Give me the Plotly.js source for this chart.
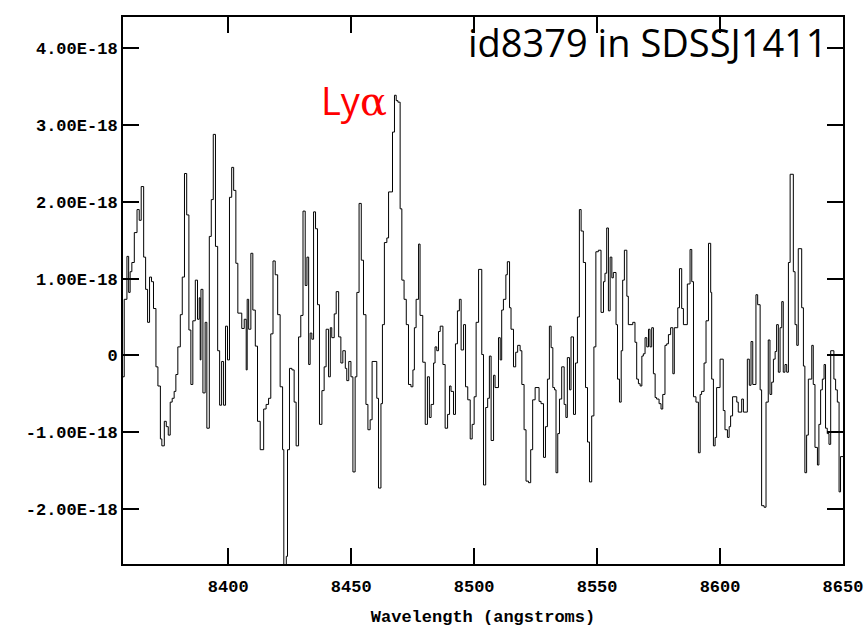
<!DOCTYPE html>
<html>
<head>
<meta charset="utf-8">
<script src="https://cdn.plot.ly/plotly-3.0.1.min.js"></script>
<style>html,body{margin:0;padding:0;background:#fff;}#chart{width:864px;height:627px;}</style>
</head>
<body>
<div id="chart"></div>
<script>
// Wavelength (bin start, angstroms)
const wavelength = [
8357.2,8357.7,8358.8,8359.5,8360.1,8360.8,8361.8,8362.9,8363.8,8364.6,
8365.6,8366.4,8367.2,8368.0,8368.8,8369.6,8370.6,8371.4,8372.4,8373.0,
8374.0,8374.8,8375.6,8376.4,8377.2,8378.0,8378.7,8379.5,8380.5,8381.3,
8382.2,8383.1,8384.0,8384.8,8385.6,8386.6,8387.5,8388.2,8388.6,8388.9,
8389.7,8390.6,8391.3,8392.3,8393.1,8393.9,8394.8,8395.7,8396.5,8397.3,
8398.1,8398.9,8399.7,8400.5,8401.4,8402.2,8403.1,8403.9,8405.5,8406.5,
8407.3,8407.7,8408.3,8409.2,8410.0,8411.0,8411.9,8413.0,8414.4,8415.4,
8416.4,8417.3,8418.2,8419.1,8420.1,8421.1,8422.1,8422.6,8423.6,8424.1,
8424.9,8425.9,8426.8,8427.6,8428.6,8429.5,8430.4,8431.3,8432.0,8432.7,
8433.3,8434.0,8434.7,8435.5,8436.3,8437.1,8438.1,8439.0,8439.8,8440.8,
8441.5,8442.1,8443.1,8443.9,8444.9,8445.8,8446.6,8447.6,8448.2,8449.0,
8449.9,8450.7,8451.6,8452.3,8453.2,8454.1,8455.0,8456.0,8456.8,8457.7,
8458.5,8460.4,8461.1,8462.1,8462.7,8463.5,8464.5,8465.2,8466.8,8467.6,
8468.3,8469.0,8469.9,8470.6,8471.5,8472.4,8473.3,8474.3,8475.1,8475.7,
8476.4,8477.4,8478.0,8479.1,8480.1,8481.0,8481.8,8482.5,8483.5,8484.1,
8484.8,8485.5,8486.2,8487.3,8488.2,8489.2,8490.0,8490.6,8491.6,8492.4,
8493.2,8494.0,8494.7,8495.7,8496.5,8497.4,8498.4,8499.2,8500.0,8500.8,
8501.8,8503.1,8503.8,8504.7,8505.5,8506.2,8506.9,8507.9,8508.5,8509.9,
8510.6,8511.2,8511.9,8512.9,8513.5,8514.4,8515.0,8516.0,8516.9,8517.7,
8518.7,8519.4,8520.3,8521.1,8522.1,8523.0,8523.8,8524.8,8526.4,8527.2,
8528.2,8529.0,8529.8,8530.6,8531.3,8532.0,8532.7,8533.3,8534.0,8534.7,
8535.6,8536.6,8537.3,8537.9,8538.8,8539.4,8540.4,8541.2,8542.0,8542.8,
8543.5,8544.4,8545.3,8546.1,8546.9,8547.8,8548.7,8549.5,8550.5,8551.6,
8552.6,8553.2,8553.9,8554.6,8555.3,8556.0,8556.6,8557.7,8558.3,8559.1,
8559.8,8560.4,8561.1,8562.1,8562.7,8564.5,8565.4,8566.1,8566.8,8567.5,
8568.2,8568.8,8569.5,8570.2,8570.9,8571.5,8572.2,8572.9,8573.6,8574.2,
8575.2,8576.0,8576.7,8577.6,8578.3,8579.0,8579.9,8580.8,8581.4,8582.8,
8583.5,8584.4,8585.1,8586.7,8587.8,8588.5,8589.2,8590.2,8591.2,8591.9,
8592.5,8593.5,8594.3,8595.3,8596.2,8596.6,8597.3,8598.0,8598.6,8600.0,
8601.3,8602.0,8603.0,8603.7,8604.3,8605.1,8606.8,8607.4,8608.8,8609.5,
8611.1,8611.9,8612.6,8613.3,8614.6,8615.3,8616.3,8616.9,8617.9,8618.7,
8619.6,8620.3,8621.0,8621.7,8622.4,8623.0,8623.7,8624.4,8625.1,8625.7,
8626.4,8627.1,8627.8,8628.5,8629.8,8630.5,8631.2,8631.8,8633.2,8633.9,
8634.5,8635.2,8635.9,8637.3,8637.9,8638.6,8639.6,8640.2,8640.9,8641.6,
8642.3,8642.9,8643.6,8644.3,8645.0,8646.3,8647.0,8647.7,8648.4,8649.0,
8650.2
];
// Flux in units of 1E-18
const flux = [
-0.28,0.73,1.29,0.82,1.09,1.21,1.60,1.90,1.76,2.20,
1.28,0.86,0.43,1.02,0.96,0.61,-0.15,-0.40,-1.09,-1.18,
-0.86,-0.93,-1.04,-0.61,-0.56,-0.47,-0.25,0.11,0.53,1.02,
2.37,1.83,0.33,-0.38,0.45,0.98,0.47,0.75,-0.06,0.86,
-0.49,0.43,-0.95,1.55,2.03,2.88,1.42,0.06,-0.65,-0.08,
-0.65,0.38,-0.06,2.06,2.45,2.15,1.20,0.55,0.35,0.47,
-0.19,0.73,0.34,1.33,0.59,0.12,-0.86,-1.23,-0.70,-0.64,
-0.56,0.28,1.23,1.05,0.53,-0.41,-1.23,-3.20,-2.62,-1.23,
-0.17,-0.19,-0.61,-1.18,0.24,0.52,1.88,0.91,1.28,-0.12,
0.29,0.21,1.87,1.65,0.66,-0.90,-0.46,-0.15,0.34,-0.28,
0.36,0.23,0.54,0.83,0.24,-0.10,0.06,-0.17,-0.33,-0.08,
-0.28,-1.52,-0.28,0.82,1.98,1.24,0.53,-0.64,-0.97,-0.84,
-0.08,-0.56,-1.73,-0.63,0.40,1.47,1.53,2.13,2.91,3.39,
3.32,3.30,1.91,0.98,0.73,0.40,-0.38,-0.41,-0.19,0.36,
0.73,1.45,0.52,-0.09,-0.90,-0.28,-0.81,-0.64,-0.10,0.11,
0.06,0.31,0.38,-0.12,-0.95,-0.77,-0.40,-0.47,-0.77,0.15,
0.58,0.73,0.07,0.40,-0.41,-0.58,-1.09,-0.90,-0.54,0.43,
1.12,0.01,-1.69,-0.68,-0.56,-0.01,-1.11,-0.26,-0.42,0.23,
-0.06,0.59,0.73,1.05,1.22,0.62,0.34,-0.15,0.04,0.13,
0.06,-0.38,-0.97,-1.64,-1.66,-1.23,-0.58,-0.42,-0.60,-0.63,
-1.33,-0.93,-0.31,0.38,0.10,-0.42,-0.45,-1.53,-1.02,-0.57,
-0.15,-0.64,-0.81,-0.03,-0.45,0.24,-0.77,-0.10,0.50,1.90,
1.62,1.21,-0.42,-1.13,-1.65,-0.79,0.11,1.35,1.37,0.56,
0.96,1.07,1.66,0.58,1.28,1.01,1.08,0.40,-0.31,-0.61,
0.06,0.98,1.37,0.77,0.40,0.43,0.17,-0.31,-0.37,-0.40,
-0.01,0.02,0.23,0.11,0.34,0.11,0.36,-0.24,-0.55,-0.57,
-0.63,-0.70,-0.51,0.13,0.15,0.27,0.36,-0.24,0.36,0.62,
1.13,0.61,0.40,0.93,1.38,0.96,-0.54,-0.61,-1.27,-0.51,
-0.47,-0.10,0.45,1.46,0.82,-0.31,-1.18,-1.07,-0.42,-0.05,
-0.72,-0.97,-1.07,-0.93,-0.79,-0.54,-0.61,-0.74,-0.57,-0.74,
-0.05,-0.39,0.18,-0.38,0.79,0.66,-0.45,-1.96,-1.98,-0.61,
0.20,-0.51,-0.35,-0.05,0.05,0.40,-0.22,0.36,0.70,-0.22,
-0.12,-0.22,1.21,2.36,1.09,0.40,0.13,1.39,0.62,-0.14,
-1.53,-1.04,-0.31,0.13,-0.38,-1.20,-1.43,-0.90,-0.45,-0.31,
-0.12,-0.95,-1.02,-1.16,0.06,-0.31,-0.45,-0.61,-1.78,-1.32,
-1.32
];
const xTickVals = [8400, 8450, 8500, 8550, 8600, 8650];
const xTickText = ["8400", "8450", "8500", "8550", "8600", "8650"];
const yTickVals = [-2, -1, 0, 1, 2, 3, 4];
const yTickText = ["-2.00E-18", "-1.00E-18", "0", "1.00E-18", "2.00E-18", "3.00E-18", "4.00E-18"];

const tickFont = {family: "Liberation Mono, monospace", size: 17, color: "#000", weight: 700};

const trace = {
  x: wavelength, y: flux, type: "scatter", mode: "lines",
  line: {shape: "hv", color: "#000", width: 1},
  hoverinfo: "skip", showlegend: false
};

const layout = {
  width: 864, height: 627,
  margin: {l: 123, r: 21, t: 17, b: 63},
  paper_bgcolor: "#fff", plot_bgcolor: "#fff",
  showlegend: false,
  xaxis: {
    range: [8357.2, 8650], tickmode: "array", tickvals: xTickVals, ticktext: xTickText,
    ticks: "inside", ticklen: 16, tickwidth: 2, tickcolor: "#000",
    showline: true, linewidth: 2, linecolor: "#000", mirror: "ticks",
    showgrid: false, zeroline: false, tickfont: tickFont, ticklabelstandoff: 6,
    title: {text: "Wavelength (angstroms)", font: tickFont, standoff: 14}
  },
  yaxis: {
    range: [-2.72, 4.41], tickmode: "array", tickvals: yTickVals, ticktext: yTickText,
    ticks: "inside", ticklen: 16, tickwidth: 2, tickcolor: "#000",
    showline: true, linewidth: 2, linecolor: "#000", mirror: "ticks",
    showgrid: false, zeroline: false, tickfont: tickFont
  },
  annotations: [
    {xref: "paper", yref: "paper", x: 0.982, y: 1.005, xanchor: "right", yanchor: "top",
     text: "id8379 in SDSSJ1411", showarrow: false,
     font: {family: "Open Sans, sans-serif", size: 38, color: "#000"}},
    {x: 8451, y: 3.33, xref: "x", yref: "y", xanchor: "center", yanchor: "middle",
     text: "Ly<span style=\"font-family:DejaVu Serif;font-size:40px\">α</span>", showarrow: false,
     font: {family: "Open Sans, sans-serif", size: 38, color: "#ff0000"}}
  ]
};

Plotly.newPlot("chart", [trace], layout, {staticPlot: true, displayModeBar: false});
</script>
</body>
</html>
